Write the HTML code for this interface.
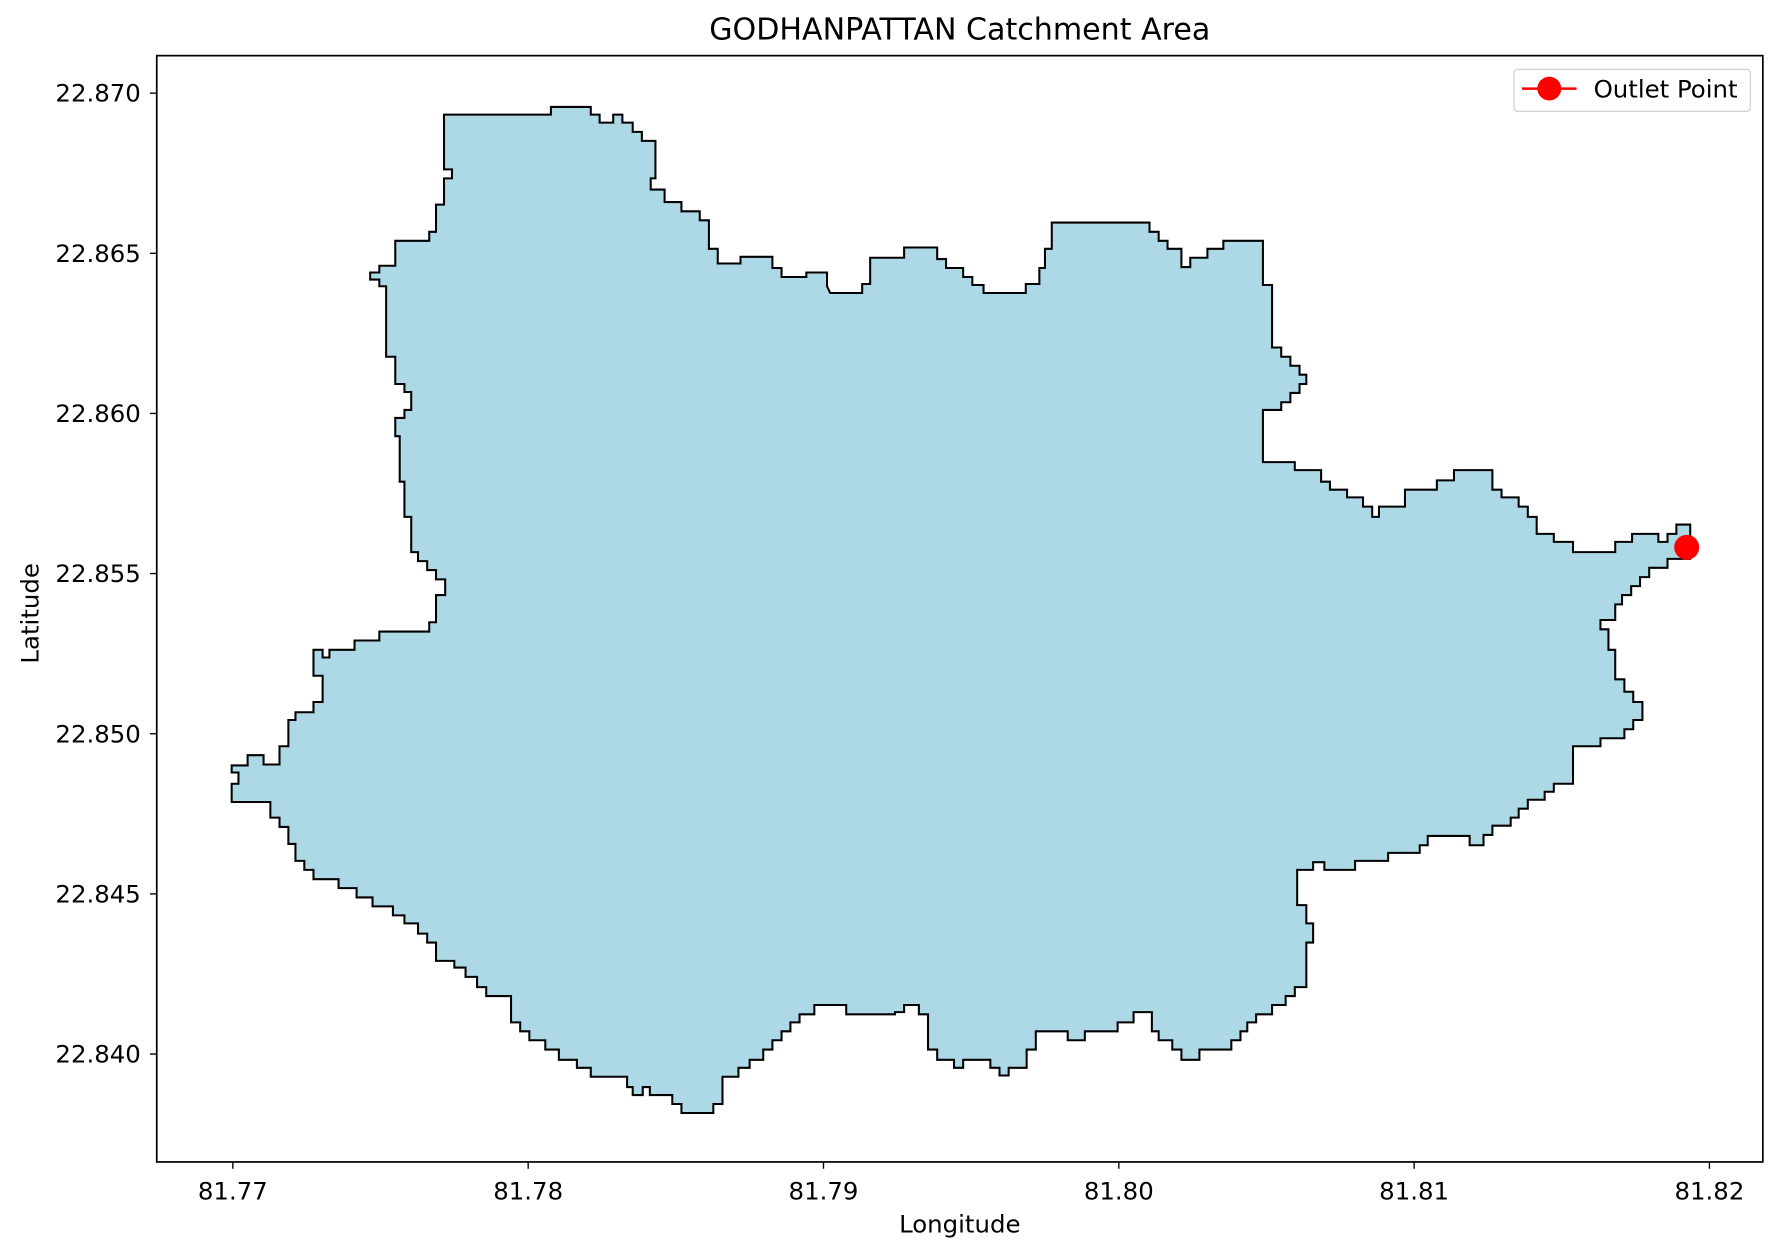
<!DOCTYPE html>
<html><head><meta charset="utf-8"><title>GODHANPATTAN Catchment Area</title>
<style>html,body{margin:0;padding:0;background:#fff;}svg{display:block;}text{font-family:"DejaVu Sans","Liberation Sans",sans-serif;fill:#000;}</style>
</head><body>
<svg id="chart" width="1781" height="1256" viewBox="0 0 1568 1105.8" preserveAspectRatio="none" xmlns="http://www.w3.org/2000/svg">
<rect width="1568" height="1105.8" fill="#fff"/>
<text x="845" y="35" font-size="26.5" text-anchor="middle">GODHANPATTAN Catchment Area</text>
<text x="845" y="1085" font-size="21.5" text-anchor="middle">Longitude</text>
<text x="0" y="0" font-size="21.5" text-anchor="middle" transform="translate(34,540) rotate(-90)">Latitude</text>
<g id="plot"></g>
<rect x="138" y="49" width="1414" height="974" fill="none" stroke="#000" stroke-width="1.5"/>
<g>
<rect x="1333" y="61" width="208" height="37" rx="3" fill="#fff" fill-opacity="0.8" stroke="#ccc" stroke-width="1"/>
<line x1="1340" y1="78" x2="1388" y2="78" stroke="#f00" stroke-width="2.2"/>
<circle cx="1364" cy="78" r="10.5" fill="#f00"/>
<text x="1403" y="86" font-size="21.5">Outlet Point</text>
</g>
</svg>
<script>
const xTicks = [81.77, 81.78, 81.79, 81.80, 81.81, 81.82];
const xTickLabels = ["81.77","81.78","81.79","81.80","81.81","81.82"];
const yTicks = [22.870, 22.865, 22.860, 22.855, 22.850, 22.845, 22.840];
const yTickLabels = ["22.870","22.865","22.860","22.855","22.850","22.845","22.840"];
const outletLon = [81.81923];
const outletLat = [22.85582];
const boundary = [
[81.77715,22.86933],[81.78077,22.86933],[81.78077,22.86957],[81.78212,22.86957],[81.78212,22.86933],[81.78242,22.86933],[81.78242,22.86908],[81.78288,22.86908],[81.78288,22.86933],[81.78319,22.86933],[81.78319,22.86908],[81.78354,22.86908],[81.78354,22.86879],[81.78385,22.86879],[81.78385,22.86851],[81.78431,22.86851],[81.78431,22.86734],[81.78415,22.86734],[81.78415,22.86699],[81.78462,22.86699],[81.78462,22.86660],[81.78519,22.86660],[81.78519,22.86631],[81.78581,22.86631],[81.78581,22.86603],[81.78612,22.86603],[81.78612,22.86514],[81.78642,22.86514],[81.78642,22.86468],[81.78719,22.86468],[81.78719,22.86489],[81.78827,22.86489],[81.78827,22.86454],[81.78858,22.86454],[81.78858,22.86426],[81.78942,22.86426],[81.78942,22.86440],[81.79012,22.86440],[81.79012,22.86397],[81.79023,22.86376],[81.79131,22.86376],[81.79131,22.86404],[81.79158,22.86404],[81.79158,22.86486],[81.79273,22.86486],[81.79273,22.86518],[81.79385,22.86518],[81.79385,22.86482],[81.79415,22.86482],[81.79415,22.86454],[81.79473,22.86454],[81.79473,22.86426],[81.79504,22.86426],[81.79504,22.86401],[81.79542,22.86401],[81.79542,22.86376],[81.79685,22.86376],[81.79685,22.86404],[81.79731,22.86404],[81.79731,22.86454],[81.79750,22.86454],[81.79750,22.86514],[81.79773,22.86514],[81.79773,22.86596],[81.80104,22.86596],[81.80104,22.86567],[81.80135,22.86567],[81.80135,22.86539],[81.80165,22.86539],[81.80165,22.86514],[81.80212,22.86514],[81.80212,22.86457],[81.80242,22.86457],[81.80242,22.86486],[81.80300,22.86486],[81.80300,22.86514],[81.80354,22.86514],[81.80354,22.86539],[81.80488,22.86539],[81.80488,22.86401],[81.80519,22.86401],[81.80519,22.86206],[81.80550,22.86206],[81.80550,22.86177],[81.80581,22.86177],[81.80581,22.86149],[81.80612,22.86149],[81.80612,22.86121],[81.80635,22.86121],[81.80635,22.86092],[81.80612,22.86092],[81.80612,22.86064],[81.80581,22.86064],[81.80581,22.86035],[81.80550,22.86035],[81.80550,22.86011],[81.80488,22.86011],[81.80488,22.85848],[81.80596,22.85848],[81.80596,22.85823],[81.80685,22.85823],[81.80685,22.85787],[81.80715,22.85787],[81.80715,22.85762],[81.80773,22.85762],[81.80773,22.85738],[81.80827,22.85738],[81.80827,22.85709],[81.80858,22.85709],[81.80858,22.85677],[81.80881,22.85677],[81.80881,22.85709],[81.80969,22.85709],[81.80969,22.85762],[81.81077,22.85762],[81.81077,22.85791],[81.81135,22.85791],[81.81135,22.85823],[81.81265,22.85823],[81.81265,22.85762],[81.81296,22.85762],[81.81296,22.85738],[81.81354,22.85738],[81.81354,22.85709],[81.81385,22.85709],[81.81385,22.85677],[81.81415,22.85677],[81.81415,22.85624],[81.81473,22.85624],[81.81473,22.85599],[81.81538,22.85599],[81.81538,22.85567],[81.81681,22.85567],[81.81681,22.85599],[81.81738,22.85599],[81.81738,22.85624],[81.81827,22.85624],[81.81827,22.85599],[81.81858,22.85599],[81.81858,22.85624],[81.81888,22.85624],[81.81888,22.85653],[81.81935,22.85653],[81.81935,22.85546],[81.81858,22.85546],[81.81858,22.85518],[81.81796,22.85518],[81.81796,22.85489],[81.81765,22.85489],[81.81765,22.85461],[81.81735,22.85461],[81.81735,22.85433],[81.81704,22.85433],[81.81704,22.85404],[81.81681,22.85404],[81.81681,22.85355],[81.81631,22.85355],[81.81631,22.85326],[81.81658,22.85326],[81.81658,22.85262],[81.81681,22.85262],[81.81681,22.85170],[81.81712,22.85170],[81.81712,22.85131],[81.81742,22.85131],[81.81742,22.85099],[81.81773,22.85099],[81.81773,22.85043],[81.81742,22.85043],[81.81742,22.85014],[81.81712,22.85014],[81.81712,22.84986],[81.81631,22.84986],[81.81631,22.84961],[81.81538,22.84961],[81.81538,22.84844],[81.81473,22.84844],[81.81473,22.84819],[81.81442,22.84819],[81.81442,22.84794],[81.81385,22.84794],[81.81385,22.84766],[81.81354,22.84766],[81.81354,22.84738],[81.81327,22.84738],[81.81327,22.84713],[81.81265,22.84713],[81.81265,22.84684],[81.81235,22.84684],[81.81235,22.84652],[81.81188,22.84652],[81.81188,22.84681],[81.81046,22.84681],[81.81046,22.84652],[81.81019,22.84652],[81.81019,22.84628],[81.80912,22.84628],[81.80912,22.84603],[81.80800,22.84603],[81.80800,22.84575],[81.80696,22.84575],[81.80696,22.84599],[81.80658,22.84599],[81.80658,22.84575],[81.80604,22.84575],[81.80604,22.84465],[81.80635,22.84465],[81.80635,22.84408],[81.80658,22.84408],[81.80658,22.84348],[81.80635,22.84348],[81.80635,22.84209],[81.80596,22.84209],[81.80596,22.84181],[81.80565,22.84181],[81.80565,22.84153],[81.80519,22.84153],[81.80519,22.84124],[81.80465,22.84124],[81.80465,22.84099],[81.80435,22.84099],[81.80435,22.84071],[81.80412,22.84071],[81.80412,22.84043],[81.80381,22.84043],[81.80381,22.84014],[81.80273,22.84014],[81.80273,22.83982],[81.80212,22.83982],[81.80212,22.84014],[81.80181,22.84014],[81.80181,22.84043],[81.80135,22.84043],[81.80135,22.84071],[81.80112,22.84071],[81.80112,22.84131],[81.80050,22.84131],[81.80050,22.84099],[81.79996,22.84099],[81.79996,22.84071],[81.79885,22.84071],[81.79885,22.84043],[81.79827,22.84043],[81.79827,22.84071],[81.79719,22.84071],[81.79719,22.84014],[81.79688,22.84014],[81.79688,22.83957],[81.79627,22.83957],[81.79627,22.83933],[81.79596,22.83933],[81.79596,22.83957],[81.79565,22.83957],[81.79565,22.83982],[81.79473,22.83982],[81.79473,22.83957],[81.79442,22.83957],[81.79442,22.83982],[81.79385,22.83982],[81.79385,22.84014],[81.79354,22.84014],[81.79354,22.84124],[81.79323,22.84124],[81.79323,22.84153],[81.79273,22.84153],[81.79273,22.84131],[81.79242,22.84131],[81.79242,22.84124],[81.79077,22.84124],[81.79077,22.84153],[81.78969,22.84153],[81.78969,22.84124],[81.78919,22.84124],[81.78919,22.84099],[81.78888,22.84099],[81.78888,22.84071],[81.78858,22.84071],[81.78858,22.84043],[81.78827,22.84043],[81.78827,22.84014],[81.78796,22.84014],[81.78796,22.83982],[81.78750,22.83982],[81.78750,22.83957],[81.78712,22.83957],[81.78712,22.83929],[81.78658,22.83929],[81.78658,22.83844],[81.78627,22.83844],[81.78627,22.83816],[81.78519,22.83816],[81.78519,22.83844],[81.78488,22.83844],[81.78488,22.83872],[81.78412,22.83872],[81.78412,22.83897],[81.78388,22.83897],[81.78388,22.83872],[81.78354,22.83872],[81.78354,22.83897],[81.78335,22.83897],[81.78335,22.83929],[81.78212,22.83929],[81.78212,22.83957],[81.78165,22.83957],[81.78165,22.83982],[81.78104,22.83982],[81.78104,22.84014],[81.78058,22.84014],[81.78058,22.84043],[81.78004,22.84043],[81.78004,22.84071],[81.77973,22.84071],[81.77973,22.84099],[81.77942,22.84099],[81.77942,22.84181],[81.77858,22.84181],[81.77858,22.84209],[81.77827,22.84209],[81.77827,22.84241],[81.77788,22.84241],[81.77788,22.84270],[81.77750,22.84270],[81.77750,22.84291],[81.77688,22.84291],[81.77688,22.84348],[81.77658,22.84348],[81.77658,22.84376],[81.77627,22.84376],[81.77627,22.84408],[81.77581,22.84408],[81.77581,22.84433],[81.77542,22.84433],[81.77542,22.84461],[81.77473,22.84461],[81.77473,22.84489],[81.77419,22.84489],[81.77419,22.84518],[81.77358,22.84518],[81.77358,22.84546],[81.77273,22.84546],[81.77273,22.84575],[81.77242,22.84575],[81.77242,22.84603],[81.77212,22.84603],[81.77212,22.84656],[81.77188,22.84656],[81.77188,22.84709],[81.77158,22.84709],[81.77158,22.84738],[81.77127,22.84738],[81.77127,22.84787],[81.76996,22.84787],[81.76996,22.84844],[81.77019,22.84844],[81.77019,22.84879],[81.76996,22.84879],[81.76996,22.84901],[81.77050,22.84901],[81.77050,22.84933],[81.77104,22.84933],[81.77104,22.84904],[81.77158,22.84904],[81.77158,22.84961],[81.77188,22.84961],[81.77188,22.85043],[81.77212,22.85043],[81.77212,22.85067],[81.77273,22.85067],[81.77273,22.85099],[81.77304,22.85099],[81.77304,22.85181],[81.77273,22.85181],[81.77273,22.85262],[81.77304,22.85262],[81.77304,22.85238],[81.77327,22.85238],[81.77327,22.85262],[81.77412,22.85262],[81.77412,22.85291],[81.77496,22.85291],[81.77496,22.85319],[81.77665,22.85319],[81.77665,22.85348],[81.77688,22.85348],[81.77688,22.85433],[81.77719,22.85433],[81.77719,22.85482],[81.77688,22.85482],[81.77688,22.85511],[81.77658,22.85511],[81.77658,22.85539],[81.77627,22.85539],[81.77627,22.85567],[81.77604,22.85567],[81.77604,22.85677],[81.77581,22.85677],[81.77581,22.85787],[81.77565,22.85787],[81.77565,22.85929],[81.77550,22.85929],[81.77550,22.85986],[81.77581,22.85986],[81.77581,22.86011],[81.77604,22.86011],[81.77604,22.86067],[81.77581,22.86067],[81.77581,22.86092],[81.77550,22.86092],[81.77550,22.86177],[81.77519,22.86177],[81.77519,22.86397],[81.77496,22.86397],[81.77496,22.86418],[81.77465,22.86418],[81.77465,22.86440],[81.77496,22.86440],[81.77496,22.86461],[81.77550,22.86461],[81.77550,22.86539],[81.77665,22.86539],[81.77665,22.86567],[81.77688,22.86567],[81.77688,22.86652],[81.77715,22.86652],[81.77715,22.86734],[81.77742,22.86734],[81.77742,22.86762],[81.77715,22.86762]
];

const NS = "http://www.w3.org/2000/svg";
const X0 = 205, XPX = 26000;
const Y0 = 82, YPX = 28200;
function xScale(lon){ return X0 + (lon - 81.77) * XPX; }
function yScale(lat){ return Y0 + (22.870 - lat) * YPX; }
const svg = document.getElementById('chart');
const plot = document.getElementById('plot');
function mk(tag, attrs){ const e = document.createElementNS(NS, tag); for (const k in attrs) e.setAttribute(k, attrs[k]); return e; }

const pts = boundary.map(p => xScale(p[0]).toFixed(2) + ',' + yScale(p[1]).toFixed(2)).join(' ');
const poly = mk('polygon', {points: pts, fill: '#add8e6', stroke: '#000', 'stroke-width': '1.8', 'stroke-linejoin': 'miter'});


plot.appendChild(poly);

for (let i = 0; i < outletLon.length; i++) {
  const c = mk('circle', {cx: xScale(outletLon[i]), cy: yScale(outletLat[i]), r: 11, fill: '#f00'});
  
  
  plot.appendChild(c);
}

for (let i = 0; i < xTicks.length; i++) {
  const x = xScale(xTicks[i]);
  const t = mk('line', {x1: x, x2: x, y1: 1023, y2: 1029, stroke: '#000', 'stroke-width': 1.2});
  
  
  svg.appendChild(t);
  const l = mk('text', {x: x, y: 1056, 'font-size': 21.5, 'text-anchor': 'middle'});
  l.textContent = xTickLabels[i];
  
  
  svg.appendChild(l);
}
for (let i = 0; i < yTicks.length; i++) {
  const y = yScale(yTicks[i]);
  const t = mk('line', {x1: 132, x2: 138, y1: y, y2: y, stroke: '#000', 'stroke-width': 1.2});
  
  
  svg.appendChild(t);
  const l = mk('text', {x: 124, y: y + 7.5, 'font-size': 21.5, 'text-anchor': 'end'});
  l.textContent = yTickLabels[i];
  
  
  svg.appendChild(l);
}
</script>
</body></html>
